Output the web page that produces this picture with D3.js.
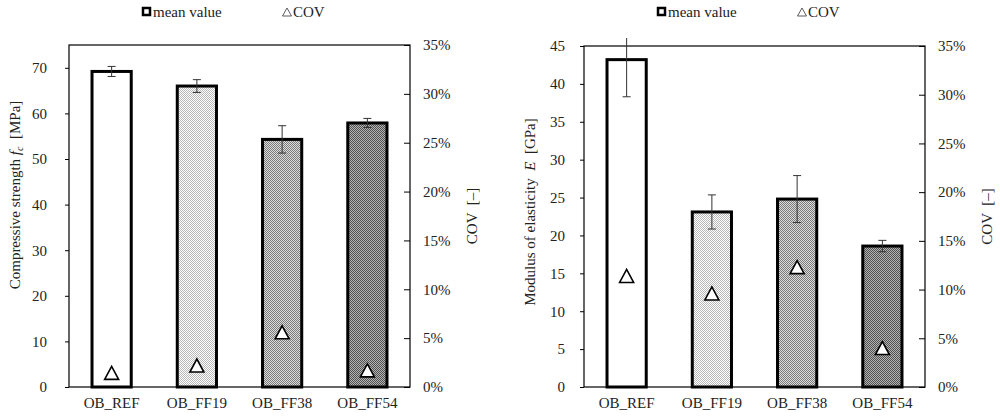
<!DOCTYPE html>
<html>
<head>
<meta charset="utf-8">
<script src="https://cdn.jsdelivr.net/npm/d3@7"></script>
</head>
<body style="margin:0;background:#fff">
<div id="chart"></div>
<script>
// categories and values
const categories = ['OB_REF', 'OB_FF19', 'OB_FF38', 'OB_FF54'];

const strengthMean = [69.2, 66.0, 54.3, 57.9];
const strengthSd = [1.1, 1.4, 3.0, 1.0];
const strengthCov = [0.0145, 0.022, 0.056, 0.017];

const modulusMean = [43.2, 23.1, 24.8, 18.6];
const modulusSd = [4.9, 2.25, 3.1, 0.75];
const modulusCov = [0.114, 0.096, 0.123, 0.040];

const strengthTicks = [0, 10, 20, 30, 40, 50, 60, 70];
const modulusTicks = [0, 5, 10, 15, 20, 25, 30, 35, 40, 45];
const covTicks = [0, 0.05, 0.10, 0.15, 0.20, 0.25, 0.30, 0.35];

const fills = ['#ffffff', 'url(#pat19)', 'url(#pat38)', 'url(#pat54)'];
const serif = '"Liberation Serif", serif';

const svg = d3.select('#chart')
  .append('svg')
  .attr('width', 1000)
  .attr('height', 419)
  .attr('font-family', serif)
  .style('display', 'block');

// checker patterns like the Excel fills
const defs = svg.append('defs');
[['pat19', '#b8b8b8', '#ffffff'], ['pat38', '#7a7a7a', '#dcdcdc'], ['pat54', '#505050', '#b4b4b4']]
  .forEach(([id, a, b]) => {
    const p = defs.append('pattern')
      .attr('id', id)
      .attr('patternUnits', 'userSpaceOnUse')
      .attr('width', 2).attr('height', 2);
    p.append('rect').attr('width', 2).attr('height', 2).attr('fill', b);
    p.append('rect').attr('width', 1).attr('height', 1).attr('fill', a);
    p.append('rect').attr('x', 1).attr('y', 1).attr('width', 1).attr('height', 1).attr('fill', a);
  });

const triPath = 'M0,-6.5L7,6.5L-7,6.5Z';

function addText(sel) {
  return sel.append('text')
    .attr('font-family', serif)
    .attr('font-size', 15)
    .attr('fill', '#222')
    .attr('xml:space', 'preserve');
}

function drawPanel(opts) {
  const { left, right, top, bottom, means, sds, covs, yMax, yTicks, leftPad, legendX, yLabel, yLabelPos, covLabelX } = opts;

  const x = d3.scaleBand().domain(categories).range([left, right]).paddingInner(0.54).paddingOuter(0.27);
  const y = d3.scaleLinear().domain([0, yMax]).range([bottom, top]);
  const yc = d3.scaleLinear().domain([0, 0.35]).range([bottom, top]);

  const g = svg.append('g');

  // frame
  g.append('rect')
    .attr('x', left).attr('y', top)
    .attr('width', right - left).attr('height', bottom - top)
    .attr('fill', 'none').attr('stroke', '#000').attr('stroke-width', 1.2);

  // left axis
  const ya = g.append('g')
    .attr('transform', `translate(${left},0)`)
    .call(d3.axisLeft(y).tickValues(yTicks).tickSize(4).tickSizeOuter(0).tickPadding(leftPad));
  ya.select('.domain').remove();

  // right axis (ticks inside)
  const yr = g.append('g')
    .attr('transform', `translate(${right},0)`)
    .call(d3.axisRight(yc).tickValues(covTicks).tickSize(-6).tickSizeOuter(0).tickPadding(13).tickFormat(d3.format('.0%')));
  yr.select('.domain').remove();

  [ya, yr].forEach(a => {
    a.attr('font-family', serif).attr('font-size', 15);
    a.selectAll('line').attr('stroke', '#000');
    a.selectAll('text').attr('font-family', serif).attr('font-size', 15).attr('fill', '#222');
  });

  // bars
  const clipId = 'clip' + left;
  defs.append('clipPath').attr('id', clipId)
    .append('rect').attr('x', left).attr('y', top - 8).attr('width', right - left).attr('height', bottom - top + 8);

  g.selectAll('.bar')
    .data(categories)
    .join('rect')
    .attr('class', 'bar')
    .attr('x', d => x(d))
    .attr('y', (d, i) => y(means[i]))
    .attr('width', x.bandwidth())
    .attr('height', (d, i) => y(0) - y(means[i]))
    .attr('fill', (d, i) => fills[i])
    .attr('stroke', '#000')
    .attr('stroke-width', 3);

  // error bars
  const eb = g.append('g').attr('clip-path', `url(#${clipId})`)
    .selectAll('g')
    .data(categories)
    .join('g')
    .attr('stroke', '#333')
    .attr('stroke-width', 1);
  const cx = d => x(d) + x.bandwidth() / 2;
  eb.append('line')
    .attr('x1', cx).attr('x2', cx)
    .attr('y1', (d, i) => y(means[i] + sds[i]))
    .attr('y2', (d, i) => y(means[i] - sds[i]));
  eb.append('line')
    .attr('x1', d => cx(d) - 4).attr('x2', d => cx(d) + 4)
    .attr('y1', (d, i) => y(means[i] + sds[i]))
    .attr('y2', (d, i) => y(means[i] + sds[i]));
  eb.append('line')
    .attr('x1', d => cx(d) - 4).attr('x2', d => cx(d) + 4)
    .attr('y1', (d, i) => y(means[i] - sds[i]))
    .attr('y2', (d, i) => y(means[i] - sds[i]));

  // COV markers
  g.selectAll('.cov')
    .data(categories)
    .join('path')
    .attr('class', 'cov')
    .attr('d', triPath)
    .attr('transform', (d, i) => `translate(${cx(d)},${yc(covs[i])})`)
    .attr('fill', '#fff')
    .attr('stroke', '#000')
    .attr('stroke-width', 1.6);

  // category labels
  g.selectAll('.cat')
    .data(categories)
    .join('text')
    .attr('class', 'cat')
    .attr('font-family', serif)
    .attr('font-size', 15)
    .attr('fill', '#222')
    .attr('x', cx)
    .attr('y', bottom + 21)
    .attr('text-anchor', 'middle')
    .text(d => d);

  // y label (left)
  const yl = addText(g)
    .attr('transform', `translate(${yLabelPos[0]},${yLabelPos[1]}) rotate(-90)`)
    .attr('text-anchor', 'middle');
  yl.append('tspan').text(yLabel[0]);
  yl.append('tspan').attr('font-style', 'italic').text(yLabel[1]);
  if (yLabel[2]) yl.append('tspan').attr('font-style', 'italic').attr('font-size', 10).attr('dy', 3).text(yLabel[2]);
  yl.append('tspan').attr('dy', yLabel[2] ? -3 : 0).text(yLabel[3]);

  // COV label (right)
  addText(g)
    .attr('transform', `translate(${covLabelX},${(top + bottom) / 2}) rotate(-90)`)
    .attr('text-anchor', 'middle')
    .text('COV  [–]');

  // legend
  const lg = g.append('g').attr('transform', `translate(${legendX},12)`);
  lg.append('rect')
    .attr('x', 1).attr('y', -4).attr('width', 7).attr('height', 7)
    .attr('fill', '#fff').attr('stroke', '#000').attr('stroke-width', 2.5);
  addText(lg).attr('x', 11).attr('y', 5).text('mean value');
  lg.append('path')
    .attr('d', 'M0,-4L4.5,4L-4.5,4Z')
    .attr('transform', 'translate(145,0)')
    .attr('fill', '#fff').attr('stroke', '#333').attr('stroke-width', 0.8);
  addText(lg).attr('x', 151).attr('y', 5).text('COV');
}

drawPanel({
  left: 69, right: 410, top: 45, bottom: 387,
  means: strengthMean, sds: strengthSd, covs: strengthCov,
  yMax: 75, yTicks: strengthTicks, leftPad: 18,
  legendX: 142,
  yLabel: ['Compressive strength ', 'f', 'c', '  [MPa]'],
  yLabelPos: [20, 195],
  covLabelX: 477
});

drawPanel({
  left: 584, right: 925, top: 46, bottom: 387,
  means: modulusMean, sds: modulusSd, covs: modulusCov,
  yMax: 45, yTicks: modulusTicks, leftPad: 15,
  legendX: 657,
  yLabel: ['Modulus of elasticity  ', 'E', '', '  [GPa]'],
  yLabelPos: [535, 212],
  covLabelX: 992
});
</script>
</body>
</html>
